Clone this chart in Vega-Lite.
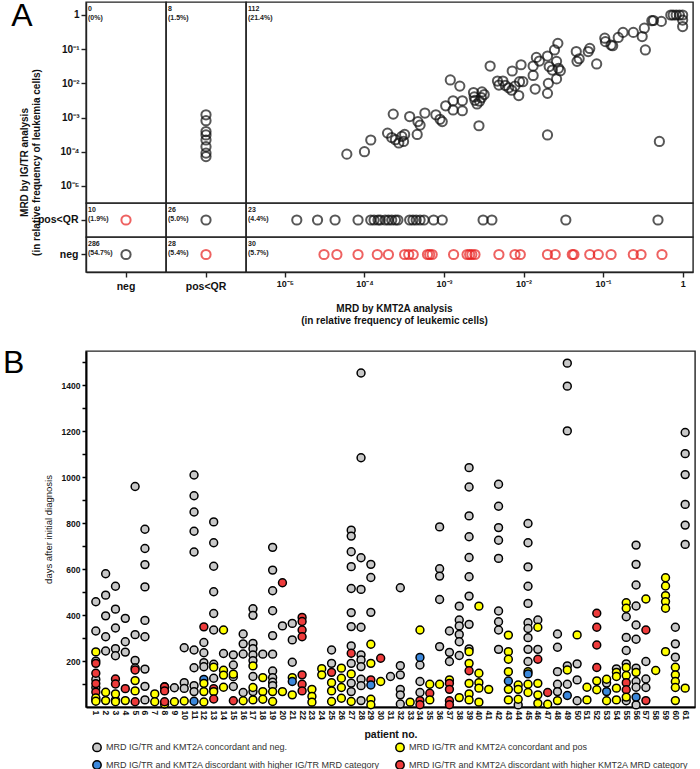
{
"$schema": "https://vega.github.io/schema/vega-lite/v6.json",
"padding": {"left": 2, "top": 0, "right": 2, "bottom": 0},
"config": {
  "font": "Liberation Sans",
  "view": {"stroke": "#222", "strokeWidth": 1.4},
  "axis": {"grid": false, "domainColor": "#222", "tickColor": "#222", "labelColor": "#111", "titleColor": "#111", "domainWidth": 1.4, "tickWidth": 1.4, "tickSize": 5, "labelFont": "Liberation Sans", "titleFont": "Liberation Sans"},
  "title": {"font": "Liberation Sans"}
},
"datasets": {
  "C": [
    {"kc": "neg", "ic": "num", "lab": "0\n(0%)"},
    {"kc": "pos<QR", "ic": "num", "lab": "8\n(1.5%)"},
    {"kc": "num", "ic": "num", "lab": "112\n(21.4%)"},
    {"kc": "neg", "ic": "pos<QR", "lab": "10\n(1.9%)"},
    {"kc": "pos<QR", "ic": "pos<QR", "lab": "26\n(5.0%)"},
    {"kc": "num", "ic": "pos<QR", "lab": "23\n(4.4%)"},
    {"kc": "neg", "ic": "neg", "lab": "286\n(54.7%)"},
    {"kc": "pos<QR", "ic": "neg", "lab": "28\n(5.4%)"},
    {"kc": "num", "ic": "neg", "lab": "30\n(5.7%)"}
  ],
  "A": [
    {"kc":"num","ic":"num","k":6.0e-5,"i":8.5e-5},{"kc":"num","ic":"num","k":1.0e-4,"i":1.0e-4},{"kc":"num","ic":"num","k":1.2e-4,"i":2.2e-4},
    {"kc":"num","ic":"num","k":2.3e-4,"i":1.26e-3},{"kc":"num","ic":"num","k":1.95e-4,"i":3.5e-4},{"kc":"num","ic":"num","k":2.2e-4,"i":2.6e-4},
    {"kc":"num","ic":"num","k":2.45e-4,"i":2.25e-4},{"kc":"num","ic":"num","k":2.7e-4,"i":1.8e-4},{"kc":"num","ic":"num","k":3.1e-4,"i":2.0e-4},
    {"kc":"num","ic":"num","k":3.2e-4,"i":3.2e-4},{"kc":"num","ic":"num","k":2.95e-4,"i":2.8e-4},{"kc":"num","ic":"num","k":4.6e-4,"i":3.2e-4},
    {"kc":"num","ic":"num","k":3.7e-4,"i":1.07e-3},{"kc":"num","ic":"num","k":4.7e-4,"i":7.6e-4},{"kc":"num","ic":"num","k":5.0e-4,"i":6.0e-4},
    {"kc":"num","ic":"num","k":5.75e-4,"i":1.35e-3},{"kc":"num","ic":"num","k":7.9e-4,"i":1.2e-3},{"kc":"num","ic":"num","k":8.9e-4,"i":8.9e-4},
    {"kc":"num","ic":"num","k":9.5e-4,"i":7.6e-4},{"kc":"num","ic":"num","k":1.05e-3,"i":2.2e-3},{"kc":"num","ic":"num","k":1.2e-3,"i":1.26e-2},
    {"kc":"num","ic":"num","k":1.58e-3,"i":8.3e-3},{"kc":"num","ic":"num","k":1.3e-3,"i":3.1e-3},{"kc":"num","ic":"num","k":1.7e-3,"i":3.1e-3},
    {"kc":"num","ic":"num","k":1.3e-3,"i":1.66e-3},{"kc":"num","ic":"num","k":1.7e-3,"i":1.58e-3},{"kc":"num","ic":"num","k":2.75e-3,"i":5.75e-4},
    {"kc":"num","ic":"num","k":2.35e-3,"i":5.4e-3},{"kc":"num","ic":"num","k":2.4e-3,"i":4.0e-3},{"kc":"num","ic":"num","k":2.45e-3,"i":3.2e-3},
    {"kc":"num","ic":"num","k":2.6e-3,"i":2.5e-3},{"kc":"num","ic":"num","k":2.8e-3,"i":3.0e-3},{"kc":"num","ic":"num","k":2.95e-3,"i":3.8e-3},
    {"kc":"num","ic":"num","k":3.2e-3,"i":4.7e-3},{"kc":"num","ic":"num","k":3.0e-3,"i":5.6e-3},{"kc":"num","ic":"num","k":3.8e-3,"i":3.2e-2},
    {"kc":"num","ic":"num","k":4.7e-3,"i":1.17e-2},{"kc":"num","ic":"num","k":4.9e-3,"i":8.9e-3},{"kc":"num","ic":"num","k":5.5e-3,"i":1.17e-2},
    {"kc":"num","ic":"num","k":5.9e-3,"i":8.7e-3},{"kc":"num","ic":"num","k":6.5e-3,"i":7.4e-3},{"kc":"num","ic":"num","k":7.1e-3,"i":6.3e-3},
    {"kc":"num","ic":"num","k":7.8e-3,"i":8.3e-3},{"kc":"num","ic":"num","k":7.2e-3,"i":2.3e-2},{"kc":"num","ic":"num","k":8.7e-3,"i":4.4e-3},
    {"kc":"num","ic":"num","k":9.3e-3,"i":3.5e-2},{"kc":"num","ic":"num","k":8.9e-3,"i":1.12e-2},{"kc":"num","ic":"num","k":9.8e-3,"i":1.12e-2},
    {"kc":"num","ic":"num","k":1.4e-2,"i":6.8e-3},{"kc":"num","ic":"num","k":1.32e-2,"i":1.7e-2},{"kc":"num","ic":"num","k":1.45e-2,"i":5.75e-2},
    {"kc":"num","ic":"num","k":1.32e-2,"i":3.2e-2},{"kc":"num","ic":"num","k":1.58e-2,"i":4.5e-2},{"kc":"num","ic":"num","k":2.0e-2,"i":6.3e-2},
    {"kc":"num","ic":"num","k":2.1e-2,"i":3.1e-2},{"kc":"num","ic":"num","k":2.05e-2,"i":1.0e-2},{"kc":"num","ic":"num","k":2.0e-2,"i":5.1e-3},
    {"kc":"num","ic":"num","k":2.0e-2,"i":3.1e-4},{"kc":"num","ic":"num","k":2.45e-2,"i":9.5e-2},{"kc":"num","ic":"num","k":2.7e-2,"i":0.148},
    {"kc":"num","ic":"num","k":2.6e-2,"i":4.4e-2},{"kc":"num","ic":"num","k":2.3e-2,"i":2.45e-2},{"kc":"num","ic":"num","k":2.75e-2,"i":2.75e-2},
    {"kc":"num","ic":"num","k":2.9e-2,"i":2.35e-2},{"kc":"num","ic":"num","k":2.6e-2,"i":1.35e-2},{"kc":"num","ic":"num","k":4.6e-2,"i":8.5e-2},
    {"kc":"num","ic":"num","k":4.7e-2,"i":4.4e-2},{"kc":"num","ic":"num","k":5.0e-2,"i":5.25e-2},{"kc":"num","ic":"num","k":6.5e-2,"i":8.5e-2},
    {"kc":"num","ic":"num","k":6.8e-2,"i":0.105},{"kc":"num","ic":"num","k":8.3e-2,"i":3.7e-2},{"kc":"num","ic":"num","k":0.105,"i":0.21},
    {"kc":"num","ic":"num","k":0.107,"i":0.166},{"kc":"num","ic":"num","k":0.126,"i":0.132},{"kc":"num","ic":"num","k":0.132,"i":0.126},
    {"kc":"num","ic":"num","k":0.155,"i":0.22},{"kc":"num","ic":"num","k":0.178,"i":0.31},{"kc":"num","ic":"num","k":0.24,"i":0.31},
    {"kc":"num","ic":"num","k":0.31,"i":0.234},{"kc":"num","ic":"num","k":0.33,"i":0.41},{"kc":"num","ic":"num","k":0.34,"i":9.5e-2},
    {"kc":"num","ic":"num","k":0.41,"i":0.68},{"kc":"num","ic":"num","k":0.43,"i":0.69},{"kc":"num","ic":"num","k":0.54,"i":0.65},
    {"kc":"num","ic":"num","k":0.71,"i":1.0},{"kc":"num","ic":"num","k":0.76,"i":1.0},{"kc":"num","ic":"num","k":0.83,"i":1.0},
    {"kc":"num","ic":"num","k":0.91,"i":1.0},{"kc":"num","ic":"num","k":1.0,"i":1.0},{"kc":"num","ic":"num","k":1.0,"i":0.71},
    {"kc":"num","ic":"num","k":1.0,"i":0.46},{"kc":"num","ic":"num","k":0.51,"i":2.0e-4},
    {"kc":"pos<QR","ic":"num","i":1.2e-3},{"kc":"pos<QR","ic":"num","i":8.1e-4},{"kc":"pos<QR","ic":"num","i":3.9e-4},{"kc":"pos<QR","ic":"num","i":3.1e-4},
    {"kc":"pos<QR","ic":"num","i":2.2e-4},{"kc":"pos<QR","ic":"num","i":1.4e-4},{"kc":"pos<QR","ic":"num","i":9.1e-5},{"kc":"pos<QR","ic":"num","i":7.2e-5},
    {"kc":"num","ic":"pos<QR","k":1.41e-5},{"kc":"num","ic":"pos<QR","k":2.57e-5},{"kc":"num","ic":"pos<QR","k":4.27e-5},{"kc":"num","ic":"pos<QR","k":8.3e-5},
    {"kc":"num","ic":"pos<QR","k":1.2e-4},{"kc":"num","ic":"pos<QR","k":1.32e-4},{"kc":"num","ic":"pos<QR","k":1.48e-4},{"kc":"num","ic":"pos<QR","k":1.58e-4},
    {"kc":"num","ic":"pos<QR","k":1.82e-4},{"kc":"num","ic":"pos<QR","k":2.0e-4},{"kc":"num","ic":"pos<QR","k":2.2e-4},{"kc":"num","ic":"pos<QR","k":2.45e-4},
    {"kc":"num","ic":"pos<QR","k":2.63e-4},{"kc":"num","ic":"pos<QR","k":3.7e-4},{"kc":"num","ic":"pos<QR","k":4.07e-4},{"kc":"num","ic":"pos<QR","k":4.47e-4},
    {"kc":"num","ic":"pos<QR","k":5.0e-4},{"kc":"num","ic":"pos<QR","k":5.6e-4},{"kc":"num","ic":"pos<QR","k":7.4e-4},{"kc":"num","ic":"pos<QR","k":9.5e-4},
    {"kc":"num","ic":"pos<QR","k":3.1e-3},{"kc":"num","ic":"pos<QR","k":4.0e-3},{"kc":"num","ic":"pos<QR","k":3.4e-2},{"kc":"num","ic":"pos<QR","k":0.49},
    {"kc":"num","ic":"neg","k":3.1e-5},{"kc":"num","ic":"neg","k":4.5e-5},{"kc":"num","ic":"neg","k":8.3e-5},{"kc":"num","ic":"neg","k":1.45e-4},
    {"kc":"num","ic":"neg","k":2.0e-4},{"kc":"num","ic":"neg","k":3.2e-4},{"kc":"num","ic":"neg","k":3.6e-4},{"kc":"num","ic":"neg","k":4.1e-4},
    {"kc":"num","ic":"neg","k":6.2e-4},{"kc":"num","ic":"neg","k":6.6e-4},{"kc":"num","ic":"neg","k":7.1e-4},{"kc":"num","ic":"neg","k":1.32e-3},
    {"kc":"num","ic":"neg","k":1.95e-3},{"kc":"num","ic":"neg","k":2.1e-3},{"kc":"num","ic":"neg","k":2.24e-3},{"kc":"num","ic":"neg","k":2.45e-3},
    {"kc":"num","ic":"neg","k":4.9e-3},{"kc":"num","ic":"neg","k":7.8e-3},{"kc":"num","ic":"neg","k":9.1e-3},{"kc":"num","ic":"neg","k":2.0e-2},
    {"kc":"num","ic":"neg","k":2.5e-2},{"kc":"num","ic":"neg","k":4.1e-2},{"kc":"num","ic":"neg","k":4.3e-2},{"kc":"num","ic":"neg","k":6.8e-2},
    {"kc":"num","ic":"neg","k":8.7e-2},{"kc":"num","ic":"neg","k":0.126},{"kc":"num","ic":"neg","k":0.24},{"kc":"num","ic":"neg","k":0.30},
    {"kc":"num","ic":"neg","k":0.55},
    {"kc":"neg","ic":"pos<QR"},{"kc":"pos<QR","ic":"pos<QR"},{"kc":"neg","ic":"neg"},{"kc":"pos<QR","ic":"neg"}
  ],
  "B": [
    {"p":1,"d":458,"c":"g"},{"p":1,"d":331,"c":"g"},{"p":1,"d":200,"c":"g"},{"p":1,"d":120,"c":"g"},{"p":1,"d":85,"c":"g"},{"p":1,"d":30,"c":"g"},{"p":1,"d":240,"c":"y"},{"p":1,"d":190,"c":"r"},{"p":1,"d":147,"c":"r"},{"p":1,"d":102,"c":"r"},{"p":1,"d":65,"c":"r"},{"p":1,"d":40,"c":"y"},{"p":1,"d":25,"c":"y"},
    {"p":2,"d":580,"c":"g"},{"p":2,"d":487,"c":"g"},{"p":2,"d":397,"c":"g"},{"p":2,"d":306,"c":"g"},{"p":2,"d":244,"c":"g"},{"p":2,"d":64,"c":"y"},{"p":2,"d":28,"c":"y"},
    {"p":3,"d":526,"c":"g"},{"p":3,"d":426,"c":"g"},{"p":3,"d":344,"c":"g"},{"p":3,"d":254,"c":"g"},{"p":3,"d":223,"c":"g"},{"p":3,"d":30,"c":"g"},{"p":3,"d":122,"c":"r"},{"p":3,"d":100,"c":"r"},{"p":3,"d":57,"c":"y"},{"p":3,"d":23,"c":"y"},
    {"p":4,"d":386,"c":"g"},{"p":4,"d":284,"c":"g"},{"p":4,"d":239,"c":"g"},{"p":4,"d":80,"c":"r"},{"p":4,"d":28,"c":"y"},
    {"p":5,"d":960,"c":"g"},{"p":5,"d":315,"c":"g"},{"p":5,"d":203,"c":"g"},{"p":5,"d":170,"c":"g"},{"p":5,"d":161,"c":"r"},{"p":5,"d":115,"c":"y"},{"p":5,"d":70,"c":"y"},{"p":5,"d":23,"c":"r"},
    {"p":6,"d":774,"c":"g"},{"p":6,"d":690,"c":"g"},{"p":6,"d":620,"c":"g"},{"p":6,"d":523,"c":"g"},{"p":6,"d":377,"c":"g"},{"p":6,"d":306,"c":"g"},{"p":6,"d":165,"c":"g"},{"p":6,"d":90,"c":"g"},{"p":6,"d":31,"c":"g"},
    {"p":7,"d":57,"c":"y"},{"p":7,"d":23,"c":"y"},
    {"p":8,"d":88,"c":"g"},{"p":8,"d":87,"c":"r"},{"p":8,"d":70,"c":"r"},{"p":8,"d":13,"c":"y"},{"p":8,"d":23,"c":"r"},
    {"p":9,"d":84,"c":"g"},{"p":9,"d":23,"c":"y"},
    {"p":10,"d":258,"c":"g"},{"p":10,"d":106,"c":"g"},{"p":10,"d":81,"c":"g"},{"p":10,"d":26,"c":"y"},
    {"p":11,"d":1010,"c":"g"},{"p":11,"d":920,"c":"g"},{"p":11,"d":849,"c":"g"},{"p":11,"d":765,"c":"g"},{"p":11,"d":675,"c":"g"},{"p":11,"d":248,"c":"g"},{"p":11,"d":171,"c":"g"},{"p":11,"d":93,"c":"g"},{"p":11,"d":67,"c":"g"},{"p":11,"d":25,"c":"b"},
    {"p":12,"d":281,"c":"g"},{"p":12,"d":236,"c":"g"},{"p":12,"d":193,"c":"g"},{"p":12,"d":175,"c":"g"},{"p":12,"d":349,"c":"r"},{"p":12,"d":120,"c":"b"},{"p":12,"d":103,"c":"y"},{"p":12,"d":67,"c":"y"},{"p":12,"d":22,"c":"y"},
    {"p":13,"d":806,"c":"g"},{"p":13,"d":715,"c":"g"},{"p":13,"d":613,"c":"g"},{"p":13,"d":502,"c":"g"},{"p":13,"d":407,"c":"g"},{"p":13,"d":335,"c":"g"},{"p":13,"d":186,"c":"g"},{"p":13,"d":125,"c":"g"},{"p":13,"d":173,"c":"y"},{"p":13,"d":80,"c":"r"},{"p":13,"d":67,"c":"y"},{"p":13,"d":35,"c":"r"},
    {"p":14,"d":233,"c":"g"},{"p":14,"d":335,"c":"y"},{"p":14,"d":160,"c":"y"},{"p":14,"d":139,"c":"y"},{"p":14,"d":86,"c":"y"},
    {"p":15,"d":227,"c":"g"},{"p":15,"d":183,"c":"g"},{"p":15,"d":132,"c":"g"},{"p":15,"d":89,"c":"g"},{"p":15,"d":143,"c":"y"},{"p":15,"d":27,"c":"r"},
    {"p":16,"d":318,"c":"g"},{"p":16,"d":275,"c":"g"},{"p":16,"d":231,"c":"g"},{"p":16,"d":63,"c":"g"},{"p":16,"d":27,"c":"y"},
    {"p":17,"d":428,"c":"g"},{"p":17,"d":399,"c":"g"},{"p":17,"d":277,"c":"g"},{"p":17,"d":254,"c":"g"},{"p":17,"d":227,"c":"g"},{"p":17,"d":202,"c":"g"},{"p":17,"d":133,"c":"g"},{"p":17,"d":67,"c":"g"},{"p":17,"d":179,"c":"y"},{"p":17,"d":85,"c":"y"},{"p":17,"d":31,"c":"y"},
    {"p":18,"d":230,"c":"g"},{"p":18,"d":128,"c":"y"},{"p":18,"d":67,"c":"y"},{"p":18,"d":34,"c":"y"},
    {"p":19,"d":695,"c":"g"},{"p":19,"d":596,"c":"g"},{"p":19,"d":506,"c":"g"},{"p":19,"d":419,"c":"g"},{"p":19,"d":311,"c":"g"},{"p":19,"d":230,"c":"g"},{"p":19,"d":157,"c":"g"},{"p":19,"d":128,"c":"g"},{"p":19,"d":108,"c":"g"},{"p":19,"d":93,"c":"g"},{"p":19,"d":67,"c":"y"},{"p":19,"d":24,"c":"y"},
    {"p":20,"d":353,"c":"g"},{"p":20,"d":541,"c":"r"},{"p":20,"d":67,"c":"y"},
    {"p":21,"d":364,"c":"g"},{"p":21,"d":292,"c":"g"},{"p":21,"d":195,"c":"g"},{"p":21,"d":128,"c":"y"},{"p":21,"d":111,"c":"b"},{"p":21,"d":53,"c":"y"},
    {"p":22,"d":390,"c":"r"},{"p":22,"d":372,"c":"r"},{"p":22,"d":335,"c":"r"},{"p":22,"d":306,"c":"r"},{"p":22,"d":140,"c":"r"},{"p":22,"d":99,"c":"r"},{"p":22,"d":70,"c":"r"},
    {"p":23,"d":77,"c":"y"},{"p":23,"d":46,"c":"y"},{"p":23,"d":21,"c":"y"},
    {"p":24,"d":167,"c":"y"},{"p":24,"d":140,"c":"y"},
    {"p":25,"d":248,"c":"g"},{"p":25,"d":190,"c":"g"},{"p":25,"d":151,"c":"r"},{"p":25,"d":106,"c":"y"},{"p":25,"d":70,"c":"y"},{"p":25,"d":24,"c":"y"},
    {"p":26,"d":169,"c":"y"},{"p":26,"d":125,"c":"y"},{"p":26,"d":85,"c":"y"},{"p":26,"d":38,"c":"y"},
    {"p":27,"d":770,"c":"g"},{"p":27,"d":744,"c":"g"},{"p":27,"d":676,"c":"g"},{"p":27,"d":611,"c":"g"},{"p":27,"d":516,"c":"g"},{"p":27,"d":411,"c":"g"},{"p":27,"d":350,"c":"g"},{"p":27,"d":266,"c":"g"},{"p":27,"d":190,"c":"g"},{"p":27,"d":104,"c":"g"},{"p":27,"d":67,"c":"g"},{"p":27,"d":234,"c":"r"},{"p":27,"d":144,"c":"y"},{"p":27,"d":24,"c":"y"},
    {"p":28,"d":1454,"c":"g"},{"p":28,"d":1085,"c":"g"},{"p":28,"d":650,"c":"g"},{"p":28,"d":512,"c":"g"},{"p":28,"d":347,"c":"g"},{"p":28,"d":227,"c":"g"},{"p":28,"d":205,"c":"g"},{"p":28,"d":176,"c":"g"},{"p":28,"d":121,"c":"g"},{"p":28,"d":93,"c":"g"},{"p":28,"d":28,"c":"g"},
    {"p":29,"d":621,"c":"g"},{"p":29,"d":564,"c":"g"},{"p":29,"d":412,"c":"g"},{"p":29,"d":273,"c":"y"},{"p":29,"d":190,"c":"y"},{"p":29,"d":118,"c":"r"},{"p":29,"d":96,"c":"b"},{"p":29,"d":34,"c":"y"},{"p":29,"d":10,"c":"y"},
    {"p":30,"d":212,"c":"r"},{"p":30,"d":111,"c":"y"},
    {"p":31,"d":133,"c":"g"},
    {"p":32,"d":519,"c":"g"},{"p":32,"d":180,"c":"g"},{"p":32,"d":140,"c":"g"},{"p":32,"d":77,"c":"g"},{"p":32,"d":53,"c":"g"},{"p":32,"d":13,"c":"g"},
    {"p":33,"d":21,"c":"y"},
    {"p":34,"d":183,"c":"g"},{"p":34,"d":111,"c":"g"},{"p":34,"d":63,"c":"g"},{"p":34,"d":335,"c":"y"},{"p":34,"d":216,"c":"b"},{"p":34,"d":28,"c":"r"},{"p":34,"d":10,"c":"r"},
    {"p":35,"d":99,"c":"y"},{"p":35,"d":60,"c":"r"},{"p":35,"d":31,"c":"y"},
    {"p":36,"d":784,"c":"g"},{"p":36,"d":602,"c":"g"},{"p":36,"d":570,"c":"g"},{"p":36,"d":468,"c":"g"},{"p":36,"d":263,"c":"g"},{"p":36,"d":99,"c":"y"},
    {"p":37,"d":331,"c":"g"},{"p":37,"d":238,"c":"g"},{"p":37,"d":198,"c":"g"},{"p":37,"d":118,"c":"y"},{"p":37,"d":103,"c":"r"},{"p":37,"d":77,"c":"r"},{"p":37,"d":27,"c":"r"},{"p":37,"d":10,"c":"r"},
    {"p":38,"d":439,"c":"g"},{"p":38,"d":379,"c":"g"},{"p":38,"d":353,"c":"g"},{"p":38,"d":316,"c":"g"},{"p":38,"d":284,"c":"g"},{"p":38,"d":224,"c":"g"},{"p":38,"d":41,"c":"y"},
    {"p":39,"d":1042,"c":"g"},{"p":39,"d":958,"c":"g"},{"p":39,"d":832,"c":"g"},{"p":39,"d":741,"c":"g"},{"p":39,"d":651,"c":"g"},{"p":39,"d":567,"c":"g"},{"p":39,"d":483,"c":"g"},{"p":39,"d":360,"c":"g"},{"p":39,"d":253,"c":"g"},{"p":39,"d":241,"c":"y"},{"p":39,"d":190,"c":"y"},{"p":39,"d":158,"c":"r"},{"p":39,"d":103,"c":"y"},{"p":39,"d":57,"c":"y"},{"p":39,"d":31,"c":"y"},
    {"p":40,"d":439,"c":"y"},{"p":40,"d":147,"c":"y"},{"p":40,"d":106,"c":"y"},{"p":40,"d":82,"c":"y"},{"p":40,"d":21,"c":"y"},
    {"p":41,"d":77,"c":"y"},
    {"p":42,"d":970,"c":"g"},{"p":42,"d":874,"c":"g"},{"p":42,"d":781,"c":"g"},{"p":42,"d":726,"c":"g"},{"p":42,"d":647,"c":"g"},{"p":42,"d":418,"c":"g"},{"p":42,"d":371,"c":"g"},{"p":42,"d":335,"c":"g"},{"p":42,"d":251,"c":"g"},
    {"p":43,"d":313,"c":"y"},{"p":43,"d":241,"c":"y"},{"p":43,"d":208,"c":"y"},{"p":43,"d":154,"c":"y"},{"p":43,"d":113,"c":"b"},{"p":43,"d":77,"c":"y"},{"p":43,"d":31,"c":"y"},
    {"p":44,"d":9,"c":"g"},{"p":44,"d":96,"c":"y"},{"p":44,"d":77,"c":"y"},{"p":44,"d":34,"c":"y"},
    {"p":45,"d":799,"c":"g"},{"p":45,"d":715,"c":"g"},{"p":45,"d":610,"c":"g"},{"p":45,"d":526,"c":"g"},{"p":45,"d":451,"c":"g"},{"p":45,"d":367,"c":"g"},{"p":45,"d":342,"c":"g"},{"p":45,"d":302,"c":"g"},{"p":45,"d":251,"c":"g"},{"p":45,"d":198,"c":"g"},{"p":45,"d":154,"c":"y"},{"p":45,"d":144,"c":"b"},{"p":45,"d":99,"c":"y"},{"p":45,"d":63,"c":"y"},
    {"p":46,"d":379,"c":"g"},{"p":46,"d":251,"c":"g"},{"p":46,"d":347,"c":"y"},{"p":46,"d":208,"c":"r"},{"p":46,"d":103,"c":"y"},{"p":46,"d":53,"c":"y"},{"p":46,"d":16,"c":"y"},
    {"p":47,"d":63,"c":"r"},{"p":47,"d":12,"c":"y"},
    {"p":48,"d":318,"c":"g"},{"p":48,"d":260,"c":"g"},{"p":48,"d":154,"c":"g"},{"p":48,"d":99,"c":"g"},{"p":48,"d":67,"c":"g"},{"p":48,"d":28,"c":"y"},
    {"p":49,"d":1497,"c":"g"},{"p":49,"d":1397,"c":"g"},{"p":49,"d":1202,"c":"g"},{"p":49,"d":179,"c":"g"},{"p":49,"d":99,"c":"g"},{"p":49,"d":161,"c":"y"},{"p":49,"d":50,"c":"b"},
    {"p":50,"d":188,"c":"g"},{"p":50,"d":118,"c":"g"},{"p":50,"d":27,"c":"g"},{"p":50,"d":314,"c":"y"},
    {"p":51,"d":86,"c":"y"},{"p":51,"d":31,"c":"y"},
    {"p":52,"d":408,"c":"r"},{"p":52,"d":347,"c":"r"},{"p":52,"d":270,"c":"r"},{"p":52,"d":172,"c":"r"},{"p":52,"d":114,"c":"y"},{"p":52,"d":75,"c":"y"},
    {"p":53,"d":104,"c":"g"},{"p":53,"d":121,"c":"y"},{"p":53,"d":67,"c":"b"},{"p":53,"d":27,"c":"y"},
    {"p":54,"d":166,"c":"g"},{"p":54,"d":151,"c":"y"},{"p":54,"d":133,"c":"y"},{"p":54,"d":82,"c":"y"},{"p":54,"d":31,"c":"y"},
    {"p":55,"d":393,"c":"g"},{"p":55,"d":303,"c":"g"},{"p":55,"d":246,"c":"g"},{"p":55,"d":188,"c":"g"},{"p":55,"d":27,"c":"g"},{"p":55,"d":454,"c":"y"},{"p":55,"d":430,"c":"y"},{"p":55,"d":172,"c":"y"},{"p":55,"d":137,"c":"y"},{"p":55,"d":106,"c":"r"},{"p":55,"d":75,"c":"r"},{"p":55,"d":43,"c":"y"},
    {"p":56,"d":705,"c":"g"},{"p":56,"d":621,"c":"g"},{"p":56,"d":531,"c":"g"},{"p":56,"d":440,"c":"g"},{"p":56,"d":357,"c":"g"},{"p":56,"d":295,"c":"g"},{"p":56,"d":169,"c":"g"},{"p":56,"d":111,"c":"g"},{"p":56,"d":86,"c":"g"},{"p":56,"d":9,"c":"g"},{"p":56,"d":151,"c":"y"},{"p":56,"d":43,"c":"b"},
    {"p":57,"d":198,"c":"g"},{"p":57,"d":122,"c":"g"},{"p":57,"d":85,"c":"g"},{"p":57,"d":470,"c":"y"},{"p":57,"d":335,"c":"r"},{"p":57,"d":28,"c":"r"},
    {"p":58,"d":159,"c":"y"},
    {"p":59,"d":563,"c":"y"},{"p":59,"d":527,"c":"y"},{"p":59,"d":485,"c":"y"},{"p":59,"d":459,"c":"y"},{"p":59,"d":430,"c":"y"},{"p":59,"d":241,"c":"y"},
    {"p":60,"d":347,"c":"g"},{"p":60,"d":275,"c":"g"},{"p":60,"d":217,"c":"g"},{"p":60,"d":173,"c":"y"},{"p":60,"d":140,"c":"y"},{"p":60,"d":111,"c":"y"},{"p":60,"d":85,"c":"y"},{"p":60,"d":28,"c":"y"},
    {"p":61,"d":1195,"c":"g"},{"p":61,"d":1103,"c":"g"},{"p":61,"d":1012,"c":"g"},{"p":61,"d":882,"c":"g"},{"p":61,"d":792,"c":"g"},{"p":61,"d":708,"c":"g"},{"p":61,"d":82,"c":"y"}
  ]
},
"spacing": 20,
"vconcat": [
  {
    "title": {"text": "A", "anchor": "start", "frame": "bounds", "fontSize": 32, "fontWeight": "normal", "color": "#000", "baseline": "alphabetic", "offset": -57, "dx": -7},
    "columns": 3, "spacing": 0, "bounds": "flush",
    "concat": [
      {"width": 80, "height": 201, "data": {"name": "C"},
       "transform": [{"filter": "datum.kc=='neg' && datum.ic=='num'"}],
       "mark": {"type": "text", "align": "left", "baseline": "top", "dx": 2, "dy": 3, "fontSize": 7, "fontWeight": "bold", "lineBreak": "\n", "color": "#222"},
       "encoding": {
         "x": {"field": "kc", "type": "nominal", "bandPosition": 0, "scale": {"type": "band", "domain": ["neg"], "paddingInner": 0, "paddingOuter": 0}, "axis": null},
         "y": {"datum": 2.4, "type": "quantitative", "scale": {"type": "log", "domain": [3.16e-6, 2.4]},
               "axis": {"values": [1e-5, 1e-4, 1e-3, 0.01, 0.1, 1], "labelExpr": "datum.value >= 0.5 ? '1' : '10' + ['','⁻¹','⁻²','⁻³','⁻⁴','⁻⁵'][round(-log(datum.value)/LN10)]", "labelFontSize": 10, "labelFontWeight": "bold", "title": ["MRD by IG/TR analysis", "(in relative frequency of leukemia cells)"], "titleX": -57, "titleY": 160, "titleBaseline": "bottom", "titleAlign": "center", "titleAngle": -90, "titleFontSize": 10, "titleFontWeight": "bold"}},
         "text": {"field": "lab"}
       }},
      {"width": 80, "height": 201,
       "layer": [
         {"data": {"name": "A"}, "transform": [{"filter": "datum.kc=='pos<QR' && datum.ic=='num'"}],
          "mark": {"type": "point", "shape": "circle", "filled": false, "size": 85, "strokeWidth": 2, "color": "#111"},
          "encoding": {
            "x": {"field": "kc", "type": "nominal", "scale": {"type": "band", "domain": ["pos<QR"], "paddingInner": 0, "paddingOuter": 0}, "axis": null},
            "y": {"field": "i", "type": "quantitative", "scale": {"type": "log", "domain": [3.16e-6, 2.4]}, "axis": null}}},
         {"data": {"name": "C"}, "transform": [{"filter": "datum.kc=='pos<QR' && datum.ic=='num'"}],
          "mark": {"type": "text", "align": "left", "baseline": "top", "dx": 2, "dy": 3, "fontSize": 7, "fontWeight": "bold", "lineBreak": "\n", "color": "#222"},
          "encoding": {
            "x": {"field": "kc", "type": "nominal", "bandPosition": 0, "scale": {"type": "band", "domain": ["pos<QR"], "paddingInner": 0, "paddingOuter": 0}, "axis": null},
            "y": {"datum": 2.4, "type": "quantitative", "scale": {"type": "log", "domain": [3.16e-6, 2.4]}, "axis": null},
            "text": {"field": "lab"}}}
       ]},
      {"width": 447, "height": 201,
       "layer": [
         {"data": {"name": "A"}, "transform": [{"filter": "datum.kc=='num' && datum.ic=='num'"}],
          "mark": {"type": "point", "shape": "circle", "filled": false, "size": 85, "strokeWidth": 2, "color": "#111"},
          "encoding": {
            "x": {"field": "k", "type": "quantitative", "scale": {"type": "log", "domain": [3.24e-6, 1.35]}, "axis": null},
            "y": {"field": "i", "type": "quantitative", "scale": {"type": "log", "domain": [3.16e-6, 2.4]}, "axis": null}}},
         {"data": {"name": "C"}, "transform": [{"filter": "datum.kc=='num' && datum.ic=='num'"}],
          "mark": {"type": "text", "align": "left", "baseline": "top", "dx": 2, "dy": 3, "fontSize": 7, "fontWeight": "bold", "lineBreak": "\n", "color": "#222"},
          "encoding": {
            "x": {"datum": 3.24e-6, "type": "quantitative", "scale": {"type": "log", "domain": [3.24e-6, 1.35]}, "axis": null},
            "y": {"datum": 2.4, "type": "quantitative", "scale": {"type": "log", "domain": [3.16e-6, 2.4]}, "axis": null},
            "text": {"field": "lab"}}}
       ]},
      {"width": 80, "height": 34,
       "layer": [
         {"data": {"name": "A"}, "transform": [{"filter": "datum.kc=='neg' && datum.ic=='pos<QR'"}],
          "mark": {"type": "point", "shape": "circle", "filled": false, "size": 85, "strokeWidth": 2, "color": "#e8201f"},
          "encoding": {
            "x": {"field": "kc", "type": "nominal", "scale": {"type": "band", "domain": ["neg"], "paddingInner": 0, "paddingOuter": 0}, "axis": null},
            "y": {"field": "ic", "type": "nominal", "scale": {"type": "band", "domain": ["pos<QR"], "paddingInner": 0, "paddingOuter": 0}, "axis": {"title": null, "labelFontSize": 10.5, "labelFontWeight": "bold", "labelPadding": 3}}}},
         {"data": {"name": "C"}, "transform": [{"filter": "datum.kc=='neg' && datum.ic=='pos<QR'"}],
          "mark": {"type": "text", "align": "left", "baseline": "top", "dx": 2, "dy": 3, "fontSize": 7, "fontWeight": "bold", "lineBreak": "\n", "color": "#222"},
          "encoding": {
            "x": {"field": "kc", "type": "nominal", "bandPosition": 0, "scale": {"type": "band", "domain": ["neg"], "paddingInner": 0, "paddingOuter": 0}, "axis": null},
            "y": {"field": "ic", "type": "nominal", "bandPosition": 0, "scale": {"type": "band", "domain": ["pos<QR"], "paddingInner": 0, "paddingOuter": 0}, "axis": {"title": null, "labelFontSize": 10.5, "labelFontWeight": "bold", "labelPadding": 3}},
            "text": {"field": "lab"}}}
       ]},
      {"width": 80, "height": 34,
       "layer": [
         {"data": {"name": "A"}, "transform": [{"filter": "datum.kc=='pos<QR' && datum.ic=='pos<QR'"}],
          "mark": {"type": "point", "shape": "circle", "filled": false, "size": 85, "strokeWidth": 2, "color": "#111"},
          "encoding": {
            "x": {"field": "kc", "type": "nominal", "scale": {"type": "band", "domain": ["pos<QR"], "paddingInner": 0, "paddingOuter": 0}, "axis": null},
            "y": {"field": "ic", "type": "nominal", "scale": {"type": "band", "domain": ["pos<QR"], "paddingInner": 0, "paddingOuter": 0}, "axis": null}}},
         {"data": {"name": "C"}, "transform": [{"filter": "datum.kc=='pos<QR' && datum.ic=='pos<QR'"}],
          "mark": {"type": "text", "align": "left", "baseline": "top", "dx": 2, "dy": 3, "fontSize": 7, "fontWeight": "bold", "lineBreak": "\n", "color": "#222"},
          "encoding": {
            "x": {"field": "kc", "type": "nominal", "bandPosition": 0, "scale": {"type": "band", "domain": ["pos<QR"], "paddingInner": 0, "paddingOuter": 0}, "axis": null},
            "y": {"field": "ic", "type": "nominal", "bandPosition": 0, "scale": {"type": "band", "domain": ["pos<QR"], "paddingInner": 0, "paddingOuter": 0}, "axis": null},
            "text": {"field": "lab"}}}
       ]},
      {"width": 447, "height": 34,
       "layer": [
         {"data": {"name": "A"}, "transform": [{"filter": "datum.kc=='num' && datum.ic=='pos<QR'"}],
          "mark": {"type": "point", "shape": "circle", "filled": false, "size": 85, "strokeWidth": 2, "color": "#111"},
          "encoding": {
            "x": {"field": "k", "type": "quantitative", "scale": {"type": "log", "domain": [3.24e-6, 1.35]}, "axis": null},
            "y": {"field": "ic", "type": "nominal", "scale": {"type": "band", "domain": ["pos<QR"], "paddingInner": 0, "paddingOuter": 0}, "axis": null}}},
         {"data": {"name": "C"}, "transform": [{"filter": "datum.kc=='num' && datum.ic=='pos<QR'"}],
          "mark": {"type": "text", "align": "left", "baseline": "top", "dx": 2, "dy": 3, "fontSize": 7, "fontWeight": "bold", "lineBreak": "\n", "color": "#222"},
          "encoding": {
            "x": {"datum": 3.24e-6, "type": "quantitative", "scale": {"type": "log", "domain": [3.24e-6, 1.35]}, "axis": null},
            "y": {"field": "ic", "type": "nominal", "bandPosition": 0, "scale": {"type": "band", "domain": ["pos<QR"], "paddingInner": 0, "paddingOuter": 0}, "axis": null},
            "text": {"field": "lab"}}}
       ]},
      {"width": 80, "height": 35,
       "layer": [
         {"data": {"name": "A"}, "transform": [{"filter": "datum.kc=='neg' && datum.ic=='neg'"}],
          "mark": {"type": "point", "shape": "circle", "filled": false, "size": 85, "strokeWidth": 2, "color": "#111"},
          "encoding": {
            "x": {"field": "kc", "type": "nominal", "scale": {"type": "band", "domain": ["neg"], "paddingInner": 0, "paddingOuter": 0}, "axis": {"title": null, "labelFontSize": 10.5, "labelFontWeight": "bold", "labelPadding": 4, "labelAngle": 0}},
            "y": {"field": "ic", "type": "nominal", "scale": {"type": "band", "domain": ["neg"], "paddingInner": 0, "paddingOuter": 0}, "axis": {"title": null, "labelFontSize": 10.5, "labelFontWeight": "bold", "labelPadding": 3}}}},
         {"data": {"name": "C"}, "transform": [{"filter": "datum.kc=='neg' && datum.ic=='neg'"}],
          "mark": {"type": "text", "align": "left", "baseline": "top", "dx": 2, "dy": 3, "fontSize": 7, "fontWeight": "bold", "lineBreak": "\n", "color": "#222"},
          "encoding": {
            "x": {"field": "kc", "type": "nominal", "bandPosition": 0, "scale": {"type": "band", "domain": ["neg"], "paddingInner": 0, "paddingOuter": 0}, "axis": {"title": null, "labelFontSize": 10.5, "labelFontWeight": "bold", "labelPadding": 4, "labelAngle": 0}},
            "y": {"field": "ic", "type": "nominal", "bandPosition": 0, "scale": {"type": "band", "domain": ["neg"], "paddingInner": 0, "paddingOuter": 0}, "axis": {"title": null, "labelFontSize": 10.5, "labelFontWeight": "bold", "labelPadding": 3}},
            "text": {"field": "lab"}}}
       ]},
      {"width": 80, "height": 35,
       "layer": [
         {"data": {"name": "A"}, "transform": [{"filter": "datum.kc=='pos<QR' && datum.ic=='neg'"}],
          "mark": {"type": "point", "shape": "circle", "filled": false, "size": 85, "strokeWidth": 2, "color": "#e8201f"},
          "encoding": {
            "x": {"field": "kc", "type": "nominal", "scale": {"type": "band", "domain": ["pos<QR"], "paddingInner": 0, "paddingOuter": 0}, "axis": {"title": null, "labelFontSize": 10.5, "labelFontWeight": "bold", "labelPadding": 4, "labelAngle": 0}},
            "y": {"field": "ic", "type": "nominal", "scale": {"type": "band", "domain": ["neg"], "paddingInner": 0, "paddingOuter": 0}, "axis": null}}},
         {"data": {"name": "C"}, "transform": [{"filter": "datum.kc=='pos<QR' && datum.ic=='neg'"}],
          "mark": {"type": "text", "align": "left", "baseline": "top", "dx": 2, "dy": 3, "fontSize": 7, "fontWeight": "bold", "lineBreak": "\n", "color": "#222"},
          "encoding": {
            "x": {"field": "kc", "type": "nominal", "bandPosition": 0, "scale": {"type": "band", "domain": ["pos<QR"], "paddingInner": 0, "paddingOuter": 0}, "axis": {"title": null, "labelFontSize": 10.5, "labelFontWeight": "bold", "labelPadding": 4, "labelAngle": 0}},
            "y": {"field": "ic", "type": "nominal", "bandPosition": 0, "scale": {"type": "band", "domain": ["neg"], "paddingInner": 0, "paddingOuter": 0}, "axis": null},
            "text": {"field": "lab"}}}
       ]},
      {"width": 447, "height": 35,
       "layer": [
         {"data": {"name": "A"}, "transform": [{"filter": "datum.kc=='num' && datum.ic=='neg'"}],
          "mark": {"type": "point", "shape": "circle", "filled": false, "size": 85, "strokeWidth": 2, "color": "#e8201f"},
          "encoding": {
            "x": {"field": "k", "type": "quantitative", "scale": {"type": "log", "domain": [3.24e-6, 1.35]},
                  "axis": {"values": [1e-5, 1e-4, 1e-3, 0.01, 0.1, 1], "labelExpr": "datum.value >= 0.5 ? '1' : '10' + ['','⁻¹','⁻²','⁻³','⁻⁴','⁻⁵'][round(-log(datum.value)/LN10)]", "labelFontSize": 9, "labelFontWeight": "bold", "title": ["MRD by KMT2A analysis", "(in relative frequency of leukemic cells)"], "titleX": 148, "titleFontSize": 10, "titleFontWeight": "bold", "titlePadding": 15}},
            "y": {"field": "ic", "type": "nominal", "scale": {"type": "band", "domain": ["neg"], "paddingInner": 0, "paddingOuter": 0}, "axis": null}}},
         {"data": {"name": "C"}, "transform": [{"filter": "datum.kc=='num' && datum.ic=='neg'"}],
          "mark": {"type": "text", "align": "left", "baseline": "top", "dx": 2, "dy": 3, "fontSize": 7, "fontWeight": "bold", "lineBreak": "\n", "color": "#222"},
          "encoding": {
            "x": {"datum": 3.24e-6, "type": "quantitative", "scale": {"type": "log", "domain": [3.24e-6, 1.35]},
                  "axis": {"values": [1e-5, 1e-4, 1e-3, 0.01, 0.1, 1], "labelExpr": "datum.value >= 0.5 ? '1' : '10' + ['','⁻¹','⁻²','⁻³','⁻⁴','⁻⁵'][round(-log(datum.value)/LN10)]", "labelFontSize": 9, "labelFontWeight": "bold", "title": ["MRD by KMT2A analysis", "(in relative frequency of leukemic cells)"], "titleX": 148, "titleFontSize": 10, "titleFontWeight": "bold", "titlePadding": 15}},
            "y": {"field": "ic", "type": "nominal", "bandPosition": 0, "scale": {"type": "band", "domain": ["neg"], "paddingInner": 0, "paddingOuter": 0}, "axis": null},
            "text": {"field": "lab"}}}
       ]}
    ]
  },
  {
    "title": {"text": "B", "anchor": "start", "frame": "bounds", "fontSize": 32, "fontWeight": "normal", "color": "#000", "baseline": "alphabetic", "offset": -54, "dx": -40},
    "width": 609, "height": 356,
    "data": {"name": "B"},
    "mark": {"type": "point", "shape": "circle", "filled": true, "size": 62, "stroke": "#000", "strokeWidth": 1.5, "opacity": 1},
    "encoding": {
      "x": {"field": "p", "type": "ordinal", "scale": {"type": "point", "padding": 1},
            "axis": {"title": "patient no.", "labelAngle": 90, "labelFontSize": 8.5, "labelFontWeight": "bold", "ticks": false, "labelPadding": 3, "titleFontSize": 10.5, "titleFontWeight": "bold", "titleY": 22, "titleBaseline": "top", "domainWidth": 2, "domainColor": "#000"}},
      "y": {"field": "d", "type": "quantitative", "scale": {"domain": [0, 1550], "nice": false},
            "axis": {"title": "days after initial diagnosis", "values": [100,200,300,400,500,600,700,800,900,1000,1100,1200,1300,1400,1500], "labelExpr": "datum.value % 200 == 0 ? datum.value : ''", "labelFontSize": 8.5, "labelFontWeight": "bold", "tickSize": 4, "titleFontSize": 9.5, "titleFontWeight": "normal", "titlePadding": 8, "domainWidth": 2, "domainColor": "#000", "tickColor": "#000", "tickWidth": 1.5}},
      "fill": {"field": "c", "type": "nominal", "scale": {"domain": ["g", "y", "b", "r"], "range": ["#c8c8c8", "#ffff00", "#3b88dc", "#ee3b3b"]},
               "legend": {"orient": "bottom", "direction": "horizontal", "columns": 2, "title": null, "labelExpr": "datum.value == 'g' ? 'MRD IG/TR and KMT2A concordant and neg.' : datum.value == 'y' ? 'MRD IG/TR and KMT2A concordant and pos' : datum.value == 'b' ? 'MRD IG/TR and KMT2A discordant with higher IG/TR MRD category' : 'MRD IG/TR and KMT2A discordant with higher KMT2A MRD category'", "symbolType": "circle", "symbolSize": 70, "symbolStrokeColor": "#000", "symbolStrokeWidth": 1.5, "labelFontSize": 9, "labelColor": "#333", "labelLimit": 400, "columnPadding": 12, "rowPadding": 2, "offset": -5, "padding": 6}}
    }
  }
]
}
